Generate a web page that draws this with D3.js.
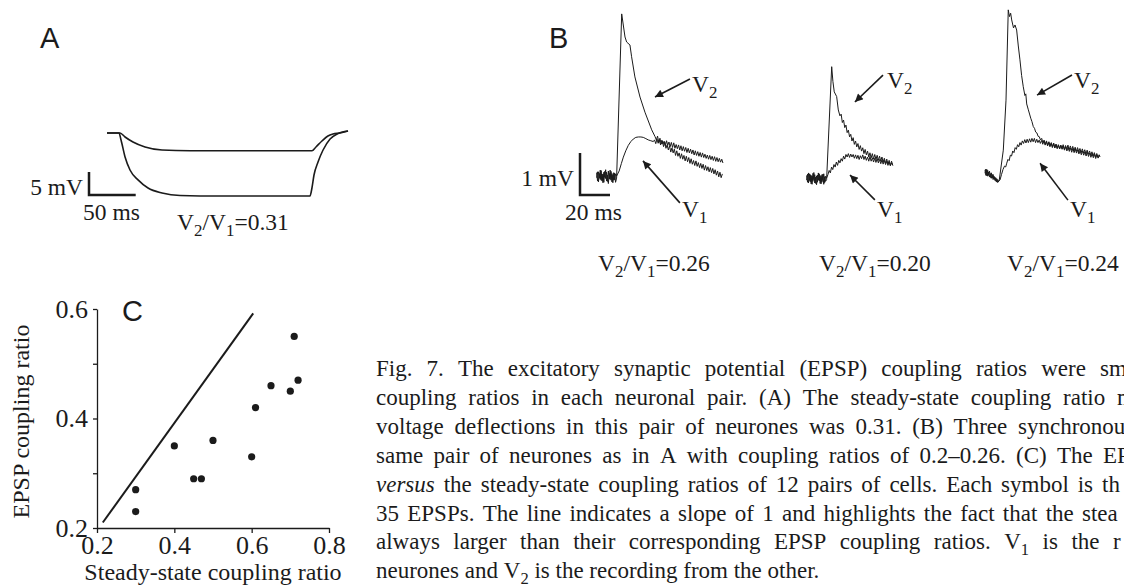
<!DOCTYPE html>
<html>
<head>
<meta charset="utf-8">
<script src="https://cdn.jsdelivr.net/npm/d3@7"></script>
<style>
body { margin: 0; background: #fff; }
svg { display: block; }
text { font-family: "Liberation Serif", "Times New Roman", serif; fill: #1b1b1b; }
.panel-letter { font-family: "Liberation Sans", Arial, sans-serif; font-size: 29px; }
</style>
</head>
<body>
<svg id="fig" width="1124" height="587"></svg>
<script>
'use strict';

// ---- Panel A : steady-state coupling (t in ms from trace start, v in mV from rest)
var stepV1 = [[0,0],[12.8,0],[15,-1.52],[19.3,-5.22],[24.6,-8.04],[33.2,-10.2],[43.9,-11.96],[58.9,-13.04],
  [78.2,-13.59],[121,-13.7],[217.3,-13.7],[219.4,-11.96],[221.6,-9.13],[225.9,-6.3],[231.3,-3.7],
  [238.8,-1.3],[246.3,-0.22],[258,0.43]];
var stepV2 = [[0,0],[13.9,0],[19.3,-0.87],[27.8,-1.96],[40.7,-3.04],[58.9,-3.7],[88.9,-3.87],[219.4,-3.87],
  [223.7,-3.04],[230.1,-1.74],[236.5,-0.65],[241.9,-0.22],[249.4,0],[258,0.43]];
var stepRatio = '0.31';

// ---- Panel B : three synchronous EPSPs (t in ms from trace start, v in mV from baseline)
var epsp1V2 = [[0,0.08],[0.6,-0.12],[1.2,0.1],[1.8,-0.05],[2.4,0.14],[3,-0.1],[3.6,0.04],[4.2,-0.16],[4.8,0.09],
  [5.4,-0.03],[6,0.15],[6.6,-0.12],[7.2,0.02],[7.8,-0.18],[8.4,0.06],[9,-0.08],[9.6,0.11],[10.2,-0.14],[10.8,0.03],
  [11.4,-0.1],[12,0.07],[12.6,-0.15],[13.3,-0.05],
  [16.7,3.86],[18.9,3.31],[20,3.19],[22.2,3.12],[23.3,2.84],[25.5,2.36],[28.9,1.88],[32.2,1.52],[36.7,1.1],[38.9,0.94],
  [39.8,0.86],[40.6,0.95],[41.4,0.8],[42.2,0.9],[43,0.76],[43.8,0.84],[44.6,0.7],[45.4,0.81],[46.2,0.66],[47,0.74],
  [47.8,0.62],[48.6,0.72],[49.4,0.57],[50.2,0.67],[51,0.55],[51.8,0.64],[52.6,0.49],[53.4,0.6],[54.2,0.47],[55,0.55],
  [55.8,0.42],[56.6,0.53],[57.4,0.4],[58.2,0.49],[59,0.36],[59.8,0.47],[60.6,0.34],[61.4,0.44],[62.2,0.3],[63,0.41],
  [63.8,0.28],[64.6,0.37],[65.4,0.25],[66.2,0.36],[67,0.23],[67.8,0.32],[68.6,0.2],[69.4,0.3],[70.2,0.18],[71,0.28],
  [71.8,0.14],[72.6,0.25],[73.4,0.13],[74.2,0.22],[75,0.1],[75.8,0.2],[76.6,0.08],[77.4,0.18],[78.2,0.05],[79,0.15],
  [79.8,0.02],[80.6,0.12],[81.4,-0.02],[82.2,0.09],[83,-0.04],[83.8,0.05]];
var epsp1V1 = [[0,-0.04],[0.6,0.1],[1.2,-0.14],[1.8,0.06],[2.4,-0.08],[3,0.13],[3.6,-0.12],[4.2,0.05],[4.8,-0.15],
  [5.4,0.11],[6,-0.06],[6.6,0.09],[7.2,-0.13],[7.8,0.12],[8.4,-0.07],[9,0.14],[9.6,-0.1],[10.2,0.06],[10.8,-0.16],
  [11.4,0.08],[12,-0.09],[12.6,0.05],[13.3,0],
  [15,0.12],[16.5,0.3],[17.8,0.45],[19.4,0.6],[21.1,0.73],[22.8,0.82],[24.4,0.88],[26.1,0.92],[27.8,0.93],[29.5,0.93],
  [31.1,0.92],[32.8,0.89],[34.4,0.86],[36.1,0.84],[37.8,0.82],
  [38.6,0.86],[39.4,0.77],[40.2,0.88],[41,0.78],[41.8,0.86],[42.6,0.74],[43.4,0.85],[44.2,0.76],[45,0.83],[45.8,0.72],
  [46.6,0.84],[47.4,0.73],[48.2,0.81],[49,0.7],[49.8,0.8],[50.6,0.68],[51.4,0.79],[52.2,0.66],[53,0.75],[53.8,0.65],
  [54.6,0.74],[55.4,0.62],[56.2,0.72],[57,0.6],[57.8,0.7],[58.6,0.59],[59.4,0.68],[60.2,0.56],[61,0.66],[61.8,0.55],
  [62.6,0.64],[63.4,0.53],[64.2,0.62],[65,0.5],[65.8,0.6],[66.6,0.49],[67.4,0.58],[68.2,0.47],[69,0.56],[69.8,0.45],
  [70.6,0.55],[71.4,0.44],[72.2,0.52],[73,0.42],[73.8,0.5],[74.6,0.4],[75.4,0.49],[76.2,0.39],[77,0.47],[77.8,0.37],
  [78.6,0.46],[79.4,0.35],[80.2,0.44],[81,0.34],[81.8,0.42],[82.6,0.33],[83.4,0.4],[84.2,0.31]];

var epsp2V2 = [[0,0.06],[0.6,-0.1],[1.2,0.12],[1.8,-0.06],[2.4,0.08],[3,-0.14],[3.6,0.05],[4.2,-0.08],[4.8,0.13],
  [5.4,-0.12],[6,0.02],[6.6,-0.16],[7.2,0.07],[7.8,-0.05],[8.4,0.1],[9,-0.13],[9.6,0.04],[10.2,-0.1],[10.8,0.09],
  [11.4,-0.15],[12,0.03],[12.6,-0.08],[13.3,-0.04],
  [16.7,2.65],[17.5,2.3],[18.4,2.05],[20,1.94],[21.1,1.62],[22.2,1.48],[23,1.52],[23.8,1.32],[24.6,1.38],[25.4,1.2],
  [26.2,1.26],[27,1.08],[27.8,1.14],[28.6,0.98],[29.4,1.04],[30.2,0.88],[31,0.96],[31.8,0.8],[32.6,0.88],[33.4,0.74],
  [34.2,0.82],[35,0.68],[35.8,0.77],[36.6,0.64],[37.4,0.72],[38.2,0.58],[39,0.68],[39.8,0.55],[40.6,0.64],[41.4,0.5],
  [42.2,0.6],[43,0.48],[43.8,0.58],[44.6,0.45],[45.4,0.56],[46.2,0.44],[47,0.54],[47.8,0.42],[48.6,0.52],[49.4,0.4],
  [50.2,0.5],[51,0.38],[51.8,0.47],[52.6,0.35],[53.4,0.45],[54.2,0.33],[55,0.42],[55.8,0.3],[56.6,0.4],[57.4,0.3]];
var epsp2V1 = [[0,-0.05],[0.6,0.09],[1.2,-0.12],[1.8,0.1],[2.4,-0.09],[3,0.06],[3.6,-0.15],[4.2,0.11],[4.8,-0.04],
  [5.4,0.08],[6,-0.13],[6.6,0.05],[7.2,-0.1],[7.8,0.12],[8.4,-0.07],[9,0.06],[9.6,-0.14],[10.2,0.08],[10.8,-0.06],
  [11.4,0.1],[12,-0.11],[12.6,0.04],[13.3,0],
  [14.2,0.08],[15,0.18],[15.8,0.12],[16.6,0.26],[17.4,0.2],[18.2,0.32],[19,0.26],[19.8,0.38],[20.6,0.3],[21.4,0.42],
  [22.2,0.36],[23,0.46],[23.8,0.4],[24.6,0.52],[25.4,0.45],[26.2,0.56],[27,0.5],[27.8,0.58],[28.6,0.49],[29.4,0.57],
  [30.2,0.5],[31,0.56],[31.8,0.47],[32.6,0.55],[33.4,0.46],[34.2,0.54],[35,0.44],[35.8,0.53],[36.6,0.46],[37.4,0.55],
  [38.2,0.44],[39,0.52],[39.8,0.42],[40.6,0.5],[41.4,0.4],[42.2,0.51],[43,0.4],[43.8,0.48],[44.6,0.38],[45.4,0.47],
  [46.2,0.37],[47,0.46],[47.8,0.36],[48.6,0.44],[49.4,0.34],[50.2,0.43],[51,0.33],[51.8,0.42],[52.6,0.32],[53.4,0.4],
  [54.2,0.3],[55,0.38],[55.8,0.29],[56.6,0.36],[57.4,0.3]];

var epsp3V2 = [[0,0.05],[0.6,-0.08],[1.2,0.06],[1.8,-0.1],[2.4,0],[3,-0.12],[3.6,-0.04],[4.2,-0.15],[4.8,-0.06],
  [5.4,-0.18],[6,-0.1],[6.6,-0.2],[7.2,-0.14],[7.8,-0.24],[8.4,-0.18],[8.9,-0.24],[9.6,-0.17],
  [12.2,0.52],[14,1.71],[15.5,3.86],[16.3,3.7],[17.1,3.78],[17.8,3.62],[19,3.43],[20,3.5],[21.1,3.38],[22.2,3],
  [23.3,2.67],[24.4,2.3],[25.5,2.03],[26.6,1.82],[27.2,1.86],[27.8,1.62],[28.9,1.48],[29.7,1.38],[30.5,1.28],
  [31.3,1.2],[32.2,1.08],[33,1.04],[33.8,0.95],[34.6,0.93],[35.4,0.85],[36.2,0.84],[37,0.76],[37.8,0.8],[38.6,0.7],
  [39.4,0.76],[40.2,0.66],[41,0.74],[41.8,0.64],[42.6,0.72],[43.4,0.63],[44.2,0.7],[45,0.6],[45.8,0.69],[46.6,0.58],
  [47.4,0.66],[48.2,0.56],[49,0.64],[49.8,0.55],[50.6,0.63],[51.4,0.54],[52.2,0.62],[53,0.52],[53.8,0.6],[54.6,0.5],
  [55.4,0.59],[56.2,0.49],[57,0.57],[57.8,0.47],[58.6,0.56],[59.4,0.46],[60.2,0.55],[61,0.45],[61.8,0.53],[62.6,0.43],
  [63.4,0.51],[64.2,0.41],[65,0.5],[65.8,0.4],[66.6,0.48],[67.4,0.38],[68.2,0.47],[69,0.37],[69.8,0.45],[70.6,0.35],
  [71.4,0.44],[72.2,0.34],[73,0.42],[73.8,0.32],[74.6,0.41],[75.4,0.33],[76.2,0.38]];
var epsp3V1 = [[0,-0.03],[0.6,0.07],[1.2,-0.09],[1.8,0.04],[2.4,-0.08],[3,0.02],[3.6,-0.13],[4.2,-0.02],[4.8,-0.14],
  [5.4,-0.06],[6,-0.17],[6.6,-0.12],[7.2,-0.22],[7.8,-0.16],[8.4,-0.25],[8.9,-0.22],
  [10,-0.19],[11,-0.06],[12,0.06],[13,0.14],[13.8,0.12],[14.5,0.21],[15.3,0.3],[16.1,0.27],[16.9,0.4],[17.7,0.38],
  [18.5,0.5],[19.3,0.46],[20.1,0.58],[20.9,0.54],[21.7,0.65],[22.5,0.6],[23.3,0.7],[24.1,0.64],[24.9,0.74],[25.7,0.68],
  [26.5,0.77],[27.3,0.69],[28.1,0.78],[28.9,0.7],[29.7,0.79],[30.5,0.71],[31.3,0.8],[32.1,0.72],[32.9,0.8],[33.7,0.7],
  [34.5,0.78],[35.3,0.7],[36.1,0.76],[36.9,0.68],[37.7,0.75],[38.5,0.66],[39.3,0.74],[40.1,0.64],[40.9,0.72],[41.7,0.62],
  [42.5,0.7],[43.3,0.6],[44.1,0.68],[44.9,0.58],[45.7,0.67],[46.5,0.57],[47.3,0.66],[48.1,0.56],[48.9,0.65],[49.7,0.55],
  [50.5,0.64],[51.3,0.56],[52.1,0.65],[52.9,0.54],[53.7,0.63],[54.5,0.55],[55.3,0.64],[56.1,0.53],[56.9,0.62],[57.7,0.52],
  [58.5,0.61],[59.3,0.5],[60.1,0.59],[60.9,0.49],[61.7,0.58],[62.5,0.48],[63.3,0.56],[64.1,0.46],[64.9,0.55],[65.7,0.45],
  [66.5,0.53],[67.3,0.43],[68.1,0.52],[68.9,0.42],[69.7,0.5],[70.5,0.4],[71.3,0.48],[72.1,0.38],[72.9,0.46],[73.7,0.36],
  [74.5,0.44],[75.3,0.35],[76.1,0.41],[76.7,0.36]];
var epspRatios = ['0.26', '0.20', '0.24'];

// ---- Panel C : EPSP vs steady-state coupling ratio, 12 cell pairs
var steadyState  = [0.30, 0.30, 0.40, 0.45, 0.47, 0.50, 0.60, 0.61, 0.65, 0.70, 0.71, 0.72];
var epspCoupling = [0.27, 0.23, 0.35, 0.29, 0.29, 0.36, 0.33, 0.42, 0.46, 0.45, 0.55, 0.47];
var unityLine = [[0.215, 0.21], [0.604, 0.592]];
var xTicksC = [0.2, 0.4, 0.6, 0.8];
var yTicksC = [0.2, 0.3, 0.4, 0.5, 0.6];
var yLabelsC = [0.2, 0.4, 0.6];

// ---- Caption (the figure crop cuts each line at the right edge)
var captionLines = [
  'Fig. 7. The excitatory synaptic potential (EPSP) coupling ratios were sm',
  'coupling ratios in each neuronal pair. (A) The steady-state coupling ratio m',
  'voltage deflections in this pair of neurones was 0.31. (B) Three synchronou',
  'same pair of neurones as in A with coupling ratios of 0.2\u20130.26. (C) The EP',
  '*versus* the steady-state coupling ratios of 12 pairs of cells. Each symbol is th',
  '35 EPSPs. The line indicates a slope of 1 and highlights the fact that the stea',
  'always larger than their corresponding EPSP coupling ratios. V_1 is the r',
  'neurones and V_2 is the recording from the other.'
];

var ink = '#1b1b1b';
var fs = 23.5;
var svg = d3.select('#fig');
svg.append('rect').attr('width', 1124).attr('height', 587).attr('fill', '#fff');

svg.append('defs').append('marker')
  .attr('id', 'head').attr('viewBox', '0 0 10 10').attr('refX', 10).attr('refY', 5)
  .attr('markerUnits', 'userSpaceOnUse').attr('markerWidth', 11).attr('markerHeight', 8)
  .attr('orient', 'auto')
  .append('path').attr('d', 'M0,0L10,5L0,10z').attr('fill', ink);

// text with subscripts: parts = [[string, isSub, isItalic]]
function richText(g, x, y, parts, size) {
  var t = g.append('text').attr('x', x).attr('y', y).attr('font-size', size);
  var down = false;
  parts.forEach(function (p) {
    var s = t.append('tspan').text(p[0]);
    if (p[1] && !down) { s.attr('font-size', size * 0.72).attr('dy', size * 0.24); down = true; }
    else if (!p[1] && down) { s.attr('dy', -size * 0.24); down = false; }
    if (p[2]) s.attr('font-style', 'italic');
  });
  return t;
}
function ratioParts(r) { return [['V'], ['2', true], ['/V'], ['1', true], ['=' + r]]; }

// ================= Panel A =================
var gA = svg.append('g');
var xA = d3.scaleLinear().domain([0, 50]).range([89, 135.7]);
var yA = d3.scaleLinear().domain([0, 5]).range([195, 172]);
var stepOrigin = { t: 19.3, v: 13.48 };
var lineA = d3.line()
  .x(function (d) { return xA(stepOrigin.t + d[0]); })
  .y(function (d) { return yA(stepOrigin.v + d[1]); })
  .curve(d3.curveMonotoneX);

[stepV1, stepV2].forEach(function (tr) {
  gA.append('path').attr('d', lineA(tr)).attr('fill', 'none')
    .attr('stroke', ink).attr('stroke-width', 1.6).attr('stroke-linejoin', 'round');
});
gA.append('path')
  .attr('d', 'M' + xA(0) + ',' + yA(5) + 'V' + yA(0) + 'H' + xA(50))
  .attr('fill', 'none').attr('stroke', ink).attr('stroke-width', 2.5);
gA.append('text').attr('x', xA(0) - 6).attr('y', yA(0)).attr('text-anchor', 'end')
  .attr('font-size', fs).text('5 mV');
gA.append('text').attr('x', 83).attr('y', 220).attr('font-size', fs).text('50 ms');
richText(gA, 177, 230, ratioParts(stepRatio), fs);
gA.append('text').attr('class', 'panel-letter').attr('x', 40).attr('y', 48).text('A');

// ================= Panel B =================
var gB = svg.append('g');
var xB = d3.scaleLinear().domain([0, 20]).range([580, 610]);
var yB = d3.scaleLinear().domain([0, 1]).range([195, 153]);
var epspTraces = [
  { v2: epsp1V2, v1: epsp1V1, t0: 11.1, b0: 0.452, ratio: epspRatios[0], labelX: 598,
    v2Arrow: [[62.2, 2.31], [38.9, 1.88]], v2Label: [63.5, 2.0],
    v1Arrow: [[55.5, -0.64], [30.9, 0.36]], v1Label: [56.9, -0.98] },
  { v2: epsp2V2, v1: epsp2V1, t0: 151.1, b0: 0.405, ratio: epspRatios[1], labelX: 819,
    v2Arrow: [[50.9, 2.45], [32.2, 1.81]], v2Label: [53.5, 2.14],
    v1Arrow: [[45.5, -0.52], [28.9, 0.07]], v1Label: [46.9, -0.93] },
  { v2: epsp3V2, v1: epsp3V1, t0: 270, b0: 0.548, ratio: epspRatios[2], labelX: 1007,
    v2Arrow: [[58, 2.31], [34.7, 1.83]], v2Label: [59.3, 2.0],
    v1Arrow: [[55.3, -0.67], [36.7, 0.21]], v1Label: [56.7, -1.07] }
];

epspTraces.forEach(function (tr) {
  var px = function (t) { return xB(tr.t0 + t); };
  var py = function (v) { return yB(tr.b0 + v); };
  var line = d3.line().x(function (d) { return px(d[0]); }).y(function (d) { return py(d[1]); });
  [tr.v1, tr.v2].forEach(function (s) {
    gB.append('path').attr('d', line(s)).attr('fill', 'none')
      .attr('stroke', ink).attr('stroke-width', 1).attr('stroke-linejoin', 'round');
  });
  [tr.v2Arrow, tr.v1Arrow].forEach(function (a) {
    gB.append('line')
      .attr('x1', px(a[0][0])).attr('y1', py(a[0][1]))
      .attr('x2', px(a[1][0])).attr('y2', py(a[1][1]))
      .attr('stroke', ink).attr('stroke-width', 1.6).attr('marker-end', 'url(#head)');
  });
  richText(gB, px(tr.v2Label[0]), py(tr.v2Label[1]), [['V'], ['2', true]], fs);
  richText(gB, px(tr.v1Label[0]), py(tr.v1Label[1]), [['V'], ['1', true]], fs);
  richText(gB, tr.labelX, 271, ratioParts(tr.ratio), fs);
});

gB.append('path')
  .attr('d', 'M' + xB(0) + ',' + yB(1) + 'V' + yB(0) + 'H' + xB(20))
  .attr('fill', 'none').attr('stroke', ink).attr('stroke-width', 2.5);
gB.append('text').attr('x', xB(0) - 6).attr('y', 186).attr('text-anchor', 'end')
  .attr('font-size', fs).text('1 mV');
gB.append('text').attr('x', 565).attr('y', 220).attr('font-size', fs).text('20 ms');
gB.append('text').attr('class', 'panel-letter').attr('x', 549).attr('y', 48).text('B');

// ================= Panel C =================
var gC = svg.append('g');
var xC = d3.scaleLinear().domain([0.2, 0.8]).range([97, 329]);
var yC = d3.scaleLinear().domain([0.2, 0.6]).range([528, 309]);

var axX = gC.append('g').attr('transform', 'translate(0,' + yC(0.2) + ')')
  .call(d3.axisBottom(xC).tickValues(xTicksC).tickSize(5).tickSizeOuter(0).tickPadding(3)
    .tickFormat(d3.format('.1f')));
var axY = gC.append('g').attr('transform', 'translate(' + xC(0.2) + ',0)')
  .call(d3.axisLeft(yC).tickValues(yTicksC).tickSize(4).tickSizeOuter(0).tickPadding(5)
    .tickFormat(function (d) { return yLabelsC.indexOf(d) >= 0 ? d3.format('.1f')(d) : ''; }));
[axX, axY].forEach(function (ax) {
  ax.attr('font-family', null).attr('font-size', null).style('color', ink);
  ax.selectAll('path, line').attr('stroke-width', 1.3);
  ax.selectAll('text').attr('font-size', 26);
});

gC.append('path').attr('d', d3.line().x(function (d) { return xC(d[0]); }).y(function (d) { return yC(d[1]); })(unityLine))
  .attr('stroke', ink).attr('stroke-width', 2).attr('fill', 'none');

gC.selectAll('circle.pair').data(steadyState).enter().append('circle')
  .attr('class', 'pair')
  .attr('cx', function (d) { return xC(d); })
  .attr('cy', function (d, i) { return yC(epspCoupling[i]); })
  .attr('r', 3.6).attr('fill', ink);

gC.append('text').attr('x', (xC(0.2) + xC(0.8)) / 2).attr('y', 580).attr('text-anchor', 'middle')
  .attr('font-size', 24).text('Steady-state coupling ratio');
gC.append('text').attr('transform', 'translate(29,' + ((yC(0.2) + yC(0.6)) / 2 + 3) + ') rotate(-90)')
  .attr('text-anchor', 'middle').attr('font-size', 24).text('EPSP coupling ratio');
gC.append('text').attr('class', 'panel-letter').attr('x', 122).attr('y', 321).text('C');

// ================= Caption (justified lines) =================
var gT = svg.append('g');
var capX = 376, capY = 376, capLead = 28.9, capSize = 23;
var lastWordX = [1100, 1117, 1018, 1103, 1102, 1082, 1113, null];

function wordParts(w) {
  if (/^\*.*\*$/.test(w)) return [[w.slice(1, -1), false, true]];
  var m = w.match(/^V_(\d)(.*)$/);
  if (m) return m[2] ? [['V'], [m[1], true], [m[2]]] : [['V'], [m[1], true]];
  return [[w]];
}

captionLines.forEach(function (line, li) {
  var y = capY + li * capLead;
  var words = line.split(' ');
  var nodes = words.map(function (w) { return richText(gT, 0, y, wordParts(w), capSize); });
  var widths = nodes.map(function (n) { return n.node().getComputedTextLength(); });
  var gap = capSize * 0.25;
  if (lastWordX[li] !== null) {
    gap = (lastWordX[li] - capX - d3.sum(widths.slice(0, -1))) / (words.length - 1);
  }
  var x = capX;
  nodes.forEach(function (n, i) { n.attr('x', x); x += widths[i] + gap; });
});
</script>
</body>
</html>
